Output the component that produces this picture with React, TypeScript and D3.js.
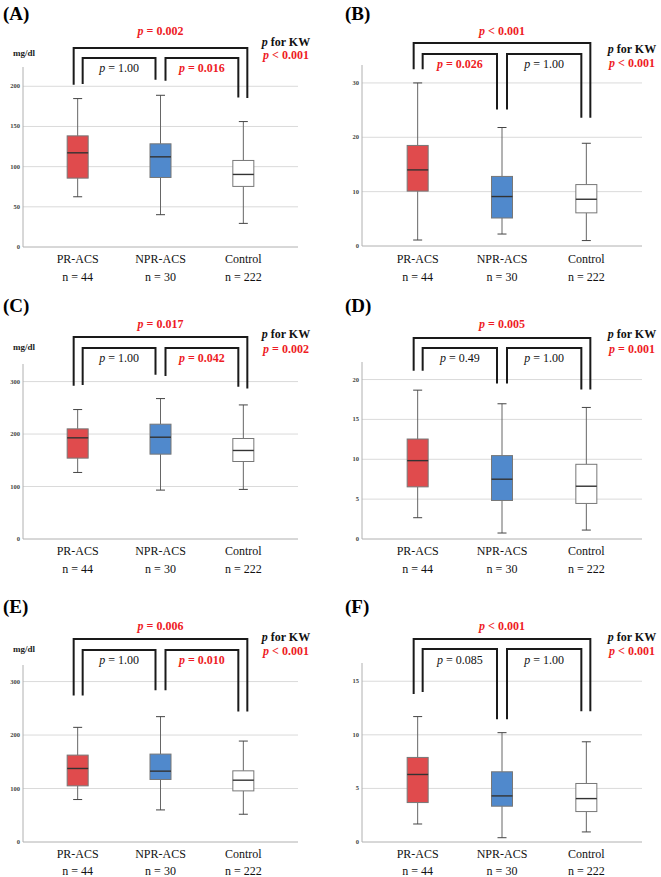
import React from "react";
import * as d3 from "d3";

// ---- data ----
const categories = ["PR-ACS", "NPR-ACS", "Control"];
const sampleSizes = ["n = 44", "n = 30", "n = 222"];
const panelLabels = ["(A)", "(B)", "(C)", "(D)", "(E)", "(F)"];
const unitLabels = ["mg/dl", "", "mg/dl", "", "mg/dl", ""];
const axisMax = [224, 33.3, 333.5, 22.2, 331, 16.7];
const tickStep = [50, 10, 100, 5, 100, 5];

// [min, q1, median, q3, max] per group, per panel
const statsA = [[62.5, 85.7, 117.2, 138.3, 184.7], [40.2, 86.5, 112.2, 128.4, 188.8], [29.4, 75.4, 90.3, 107.7, 156.1]];
const statsB = [[1.1, 10.1, 14.0, 18.5, 30.0], [2.2, 5.15, 9.1, 12.8, 21.8], [1.0, 6.1, 8.6, 11.3, 18.9]];
const statsC = [[126.8, 154.1, 192.8, 209.9, 246.7], [93.2, 161.7, 194.0, 218.8, 267.6], [94.5, 147.7, 168.7, 191.5, 255.5]];
const statsD = [[2.67, 6.54, 9.83, 12.54, 18.67], [0.75, 4.83, 7.5, 10.46, 16.96], [1.12, 4.46, 6.62, 9.37, 16.5]];
const statsE = [[79.4, 105, 137.5, 162.5, 214.4], [60, 116.9, 132.5, 164.4, 234.4], [51.9, 95.6, 115.6, 133.1, 188.75]];
const statsF = [[1.68, 3.68, 6.3, 7.89, 11.7], [0.4, 3.34, 4.3, 6.55, 10.2], [0.94, 2.84, 4.05, 5.46, 9.35]];
const allStats = [statsA, statsB, statsC, statsD, statsE, statsF];

// p-values (operator, value)
const pOverall = ["= 0.002", "< 0.001", "= 0.017", "= 0.005", "= 0.006", "< 0.001"];
const pLeft = ["= 1.00", "= 0.026", "= 1.00", "= 0.49", "= 1.00", "= 0.085"];
const pRight = ["= 0.016", "= 1.00", "= 0.042", "= 1.00", "= 0.010", "= 1.00"];
const pKW = ["< 0.001", "< 0.001", "= 0.002", "= 0.001", "< 0.001", "< 0.001"];

// bracket leg ends in data units: [outerLeft, innerLeft1, innerRight1, innerLeft2, innerRight2, outerRight]
const legEnds = [
  [202, 203, 208, 207, 186, 185.5],
  [32.5, 32.5, 25.1, 25.1, 23.6, 23.6],
  [292, 293.6, 313, 310.7, 290, 287],
  [21.1, 21.1, 19.5, 19.5, 18.75, 18.75],
  [274, 274, 284, 284, 244, 244],
  [13.8, 14.0, 11.45, 11.45, 12.2, 12.2],
];

// ---- layout ----
const colLayout = [
  { x0: 23, x1: 298, labelX: 3, kwX: 286, unitX: 13 },
  { x0: 362, x1: 642, labelX: 345, kwX: 632, unitX: 353 },
];
const panelLayout = [
  { yTop: 67, yBottom: 247, outer: 48, inner: 58, pTop: 35, pInner: 72, kw1: 46, kw2: 59, label: 20, unit: 56, cat: 263, n: 281 },
  { yTop: 65, yBottom: 246, outer: 43, inner: 54, pTop: 35, pInner: 68, kw1: 53, kw2: 67, label: 20, unit: 56, cat: 263, n: 281 },
  { yTop: 364, yBottom: 539, outer: 337, inner: 348, pTop: 328, pInner: 362, kw1: 338, kw2: 353, label: 312, unit: 350, cat: 555, n: 573 },
  { yTop: 362, yBottom: 539, outer: 338, inner: 348, pTop: 328, pInner: 362, kw1: 338, kw2: 353, label: 312, unit: 350, cat: 555, n: 573 },
  { yTop: 665, yBottom: 842, outer: 639, inner: 650, pTop: 630, pInner: 664, kw1: 641, kw2: 655, label: 613, unit: 652, cat: 858, n: 875 },
  { yTop: 663, yBottom: 842, outer: 639, inner: 649, pTop: 630, pInner: 664, kw1: 641, kw2: 655, label: 613, unit: 652, cat: 858, n: 875 },
];

const fillColors = ["#e04b4d", "#5089cc", "#ffffff"];
const SERIF = "Liberation Serif, DejaVu Serif, Times New Roman, serif";
const RED = "#ee1c25";
const serifStyle = { fontFamily: SERIF };

function isSig(s: string) {
  const v = parseFloat(s.slice(2));
  return s[0] === "<" || v < 0.05;
}

function PText({ x, y, s }: { x: number; y: number; s: string }) {
  const sig = isSig(s);
  return (
    <text x={x} y={y} textAnchor="middle" style={serifStyle} fontSize={12}
      fontWeight={sig ? "bold" : "normal"} fill={sig ? RED : "#111"}>
      <tspan fontStyle="italic">p</tspan> {s}
    </text>
  );
}

function Panel({ i }: { i: number }) {
  const col = colLayout[i % 2];
  const L = panelLayout[i];
  const stats = allStats[i];
  const x = d3.scalePoint<string>().domain(categories).range([col.x0, col.x1]).padding(0.66);
  const y = d3.scaleLinear().domain([0, axisMax[i]]).range([L.yBottom, L.yTop]);
  const ticks = d3.range(0, axisMax[i] + 1e-9, tickStep[i]);
  const bw = 21;
  const cap = 9;
  const cx = categories.map((c) => x(c) as number);
  const le = legEnds[i];
  const bx = [cx[0] - 4, cx[0] + 5, cx[1] - 5, cx[1] + 5, cx[2] - 5, cx[2] + 4];
  const bStroke = "#1a1a1a";
  return (
    <g>
      <text x={col.labelX} y={L.label} style={serifStyle} fontWeight="bold" fontSize={19}>{panelLabels[i]}</text>
      {unitLabels[i] && (
        <text x={col.unitX} y={L.unit} style={serifStyle} fontWeight="bold" fontSize={9} fill="#222">{unitLabels[i]}</text>
      )}
      {ticks.map((t) => (
        <g key={t}>
          {t > 0 && <line x1={col.x0} x2={col.x1} y1={y(t)} y2={y(t)} stroke="#dadada" strokeWidth={1} />}
          <text x={col.x0 - 3} y={y(t) + 2} textAnchor="end" style={serifStyle} fontWeight="bold" fontSize={6.5} fill="#444">{t}</text>
        </g>
      ))}
      <line x1={col.x0} x2={col.x0} y1={L.yTop} y2={L.yBottom} stroke="#b0b0b0" strokeWidth={1} />
      <line x1={col.x0} x2={col.x1} y1={L.yBottom} y2={L.yBottom} stroke="#b0b0b0" strokeWidth={1} />
      {categories.map((c, k) => {
        const [mn, q1, md, q3, mx] = stats[k];
        const xc = cx[k];
        return (
          <g key={c}>
            <line x1={xc} x2={xc} y1={y(mx)} y2={y(q3)} stroke="#666" strokeWidth={1} />
            <line x1={xc} x2={xc} y1={y(q1)} y2={y(mn)} stroke="#666" strokeWidth={1} />
            <line x1={xc - cap / 2} x2={xc + cap / 2} y1={y(mx)} y2={y(mx)} stroke="#444" strokeWidth={1} />
            <line x1={xc - cap / 2} x2={xc + cap / 2} y1={y(mn)} y2={y(mn)} stroke="#444" strokeWidth={1} />
            <rect x={xc - bw / 2} y={y(q3)} width={bw} height={y(q1) - y(q3)} fill={fillColors[k]} stroke="#777" strokeWidth={1} />
            <line x1={xc - bw / 2} x2={xc + bw / 2} y1={y(md)} y2={y(md)} stroke="#333" strokeWidth={1.4} />
            <text x={xc} y={L.cat} textAnchor="middle" style={serifStyle} fontSize={12} fill="#111">{c}</text>
            <text x={xc} y={L.n} textAnchor="middle" style={serifStyle} fontSize={12} fill="#111">{sampleSizes[k]}</text>
          </g>
        );
      })}
      <path d={`M${bx[0]},${y(le[0])}V${L.outer}H${bx[5]}V${y(le[5])}`} fill="none" stroke={bStroke} strokeWidth={2} />
      <path d={`M${bx[1]},${y(le[1])}V${L.inner}H${bx[2]}V${y(le[2])}`} fill="none" stroke={bStroke} strokeWidth={2} />
      <path d={`M${bx[3]},${y(le[3])}V${L.inner}H${bx[4]}V${y(le[4])}`} fill="none" stroke={bStroke} strokeWidth={2} />
      <PText x={(bx[0] + bx[5]) / 2} y={L.pTop} s={pOverall[i]} />
      <PText x={(bx[1] + bx[2]) / 2} y={L.pInner} s={pLeft[i]} />
      <PText x={(bx[3] + bx[4]) / 2} y={L.pInner} s={pRight[i]} />
      <text x={col.kwX} y={L.kw1} textAnchor="middle" style={serifStyle} fontSize={12} fontWeight="bold" fill="#111">
        <tspan fontStyle="italic">p</tspan> for KW
      </text>
      <PText x={col.kwX} y={L.kw2} s={pKW[i]} />
    </g>
  );
}

export default function App() {
  return (
    <svg width={661} height={877} style={{ position: "absolute", left: 0, top: 0, background: "#fff" }}>
      <rect width={661} height={877} fill="#fff" />
      {panelLabels.map((_, i) => (
        <Panel key={i} i={i} />
      ))}
    </svg>
  );
}
